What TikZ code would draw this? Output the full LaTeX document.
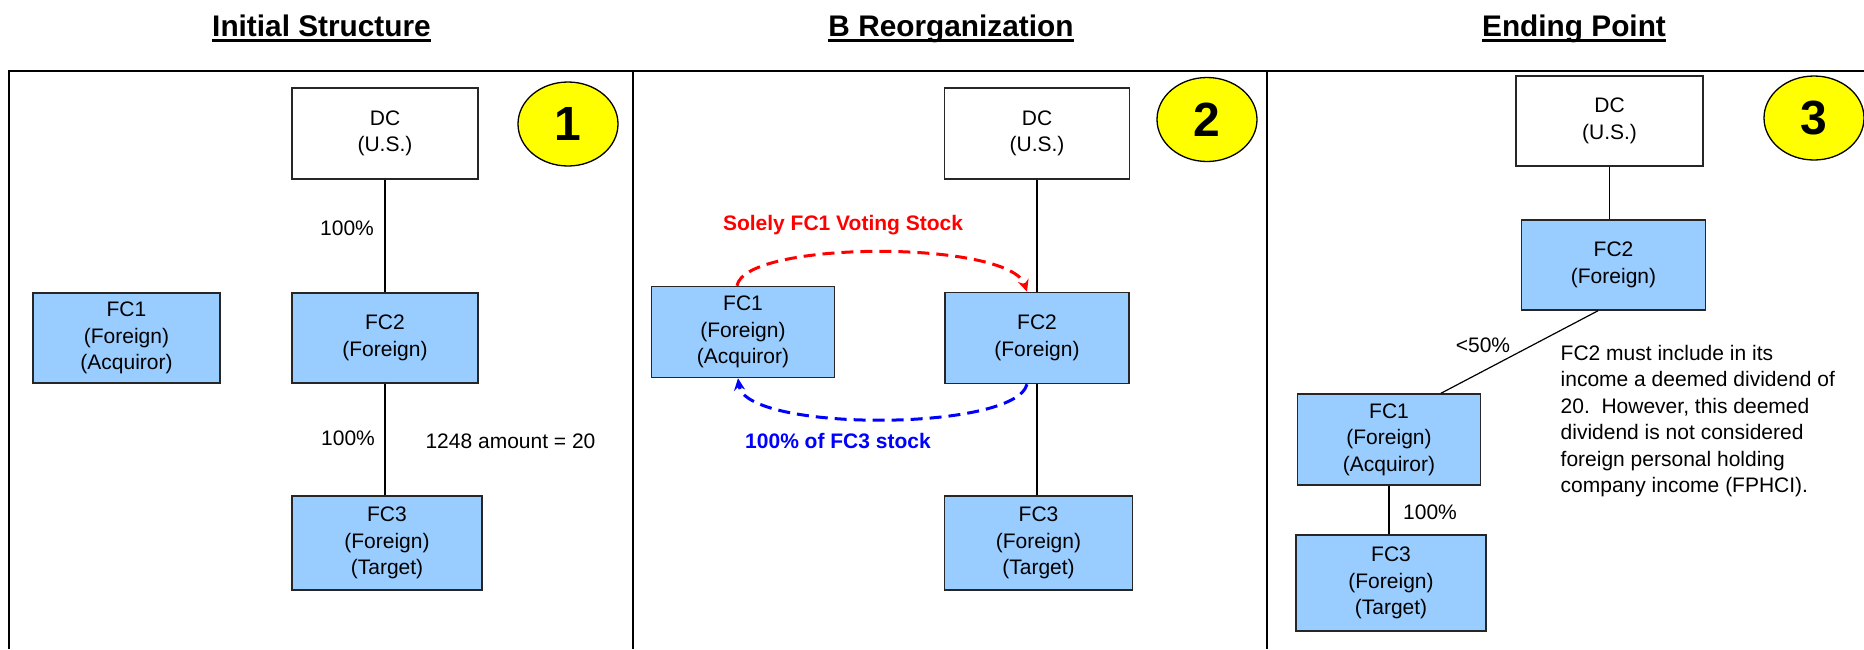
\documentclass[tikz,border=0pt]{standalone}
\usepackage{fontspec}
\setmainfont{Liberation Sans}
\usetikzlibrary{shapes.geometric,arrows.meta}
\definecolor{boxblue}{HTML}{99CCFF}
\definecolor{badgeyellow}{HTML}{FFFF00}
\definecolor{linkred}{HTML}{FF0000}
\definecolor{linkblue}{HTML}{0000FF}

\begin{document}
\begin{tikzpicture}[x=1pt,y=-1pt,
  body/.style={font=\fontsize{21}{26.5}\selectfont},
  lbl/.style={body, inner sep=0pt},
  lblbold/.style={font=\fontsize{21}{26.5}\selectfont\bfseries, inner sep=0pt},
  paneltitle/.style={font=\fontsize{29.8}{32}\selectfont\bfseries, inner sep=0pt, anchor=base},
  ent/.style={draw=black!85, line width=1.5pt, fill=boxblue, inner sep=0pt, align=center, body},
  parent/.style={ent, fill=white},
  numbadge/.style={ellipse, draw=black, line width=1.3pt, fill=badgeyellow, minimum width=100pt, minimum height=84pt, inner sep=0pt, font=\fontsize{48}{48}\selectfont\bfseries},
  frame/.style={line width=2pt, black},
  own/.style={line width=1.2pt, black},
  redflow/.style={draw=linkred, line width=3pt, dash pattern=on 12pt off 7pt, -{Stealth[length=12pt,width=11pt]}},
  blueflow/.style={draw=linkblue, line width=3pt, dash pattern=on 12pt off 7pt, -{Stealth[length=12pt,width=11pt]}}
]
\useasboundingbox (0,0) rectangle (1864,649);

% panel titles
\node[paneltitle] (t1) at (321.5,36.5) {Initial Structure};
\node[paneltitle] (t2) at (951,36.5) {B Reorganization};
\node[paneltitle] (t3) at (1574,36.5) {Ending Point};
\foreach \t in {t1,t2,t3}
  \draw[line width=3pt] ([yshift=-4.2pt]\t.base west) -- ([yshift=-4.2pt]\t.base east);

% frame and panel dividers
\coordinate (fbl) at (9,649);
\coordinate (ftl) at (9,71);
\coordinate (ftr) at (1864,71);
\coordinate (d1t) at (633,71);
\coordinate (d1b) at (633,649);
\coordinate (d2t) at (1267,71);
\coordinate (d2b) at (1267,649);
\draw[frame] (fbl) -- (ftl) -- (ftr);
\draw[frame] (d1t) -- (d1b);
\draw[frame] (d2t) -- (d2b);

% ---- panel 1: initial structure
\node[parent, minimum width=186pt, minimum height=91pt] (dc1) at (385,133.5) {DC\\(U.S.)};
\node[ent, minimum width=187pt, minimum height=90pt] (fc1a) at (126.5,338) {FC1\\(Foreign)\\(Acquiror)};
\node[ent, minimum width=186pt, minimum height=90pt] (fc2a) at (385,338) {FC2\\(Foreign)};
\node[ent, minimum width=190pt, minimum height=94pt] (fc3a) at (387,543) {FC3\\(Foreign)\\(Target)};
\node[numbadge] (n1) at (568,124) {1};
\draw[own] (dc1.south) -- (fc2a.north);
\draw[own] (fc2a.south) -- (fc2a.south |- fc3a.north);
\node[lbl] (p1a) at (347,228) {100\%};
\node[lbl] (p1b) at (348,438) {100\%};
\node[lbl] (amt) at (510.5,441) {1248 amount = 20};

% ---- panel 2: B reorganization
\node[parent, minimum width=185pt, minimum height=91pt] (dc2) at (1037,133.5) {DC\\(U.S.)};
\node[ent, minimum width=183pt, minimum height=91pt] (fc1b) at (743,332) {FC1\\(Foreign)\\(Acquiror)};
\node[ent, minimum width=184pt, minimum height=91pt] (fc2b) at (1037,338) {FC2\\(Foreign)};
\node[ent, minimum width=188pt, minimum height=94pt] (fc3b) at (1038.5,543) {FC3\\(Foreign)\\(Target)};
\node[numbadge] (n2) at (1207,119.5) {2};
\draw[own] (dc2.south) -- (fc2b.north);
\draw[own] (fc2b.south) -- (fc2b.south |- fc3b.north);
\draw[redflow] ([xshift=-6pt]fc1b.north) .. controls (745,240) and (1010,240) .. ([xshift=-10pt]fc2b.north);
\draw[blueflow] ([xshift=-10pt]fc2b.south) .. controls (1015,432) and (745,432) .. ([xshift=-5pt]fc1b.south);
\node[lblbold, text=linkred] (give) at (843,225) {Solely FC1 Voting Stock};
\node[lblbold, text=linkblue] (take) at (838,441) {100\% of FC3 stock};

% ---- panel 3: ending point
\node[parent, minimum width=187pt, minimum height=90pt] (dc3) at (1609.5,121) {DC\\(U.S.)};
\node[ent, minimum width=184pt, minimum height=90pt] (fc2c) at (1613.5,265) {FC2\\(Foreign)};
\node[ent, minimum width=183pt, minimum height=91pt] (fc1c) at (1389,439.5) {FC1\\(Foreign)\\(Acquiror)};
\node[ent, minimum width=190pt, minimum height=96pt] (fc3c) at (1391,583) {FC3\\(Foreign)\\(Target)};
\node[numbadge] (n3) at (1814,118) {3};
\draw[own] (dc3.south) -- (dc3.south |- fc2c.north);
\draw[own] ([xshift=-15.5pt]fc2c.south) -- ([xshift=52pt]fc1c.north);
\draw[own] (fc1c.south) -- (fc1c.south |- fc3c.north);
\node[lbl] (p3a) at (1483,345) {<50\%};
\node[lbl] (p3b) at (1430,512) {100\%};
\node[lbl, anchor=north west, align=left] (note) at (1560.5,345)
  {FC2 must include in its\\income a deemed dividend of\\20.\ \ However, this deemed\\dividend is not considered\\foreign personal holding\\company income (FPHCI).};
\end{tikzpicture}
\end{document}
